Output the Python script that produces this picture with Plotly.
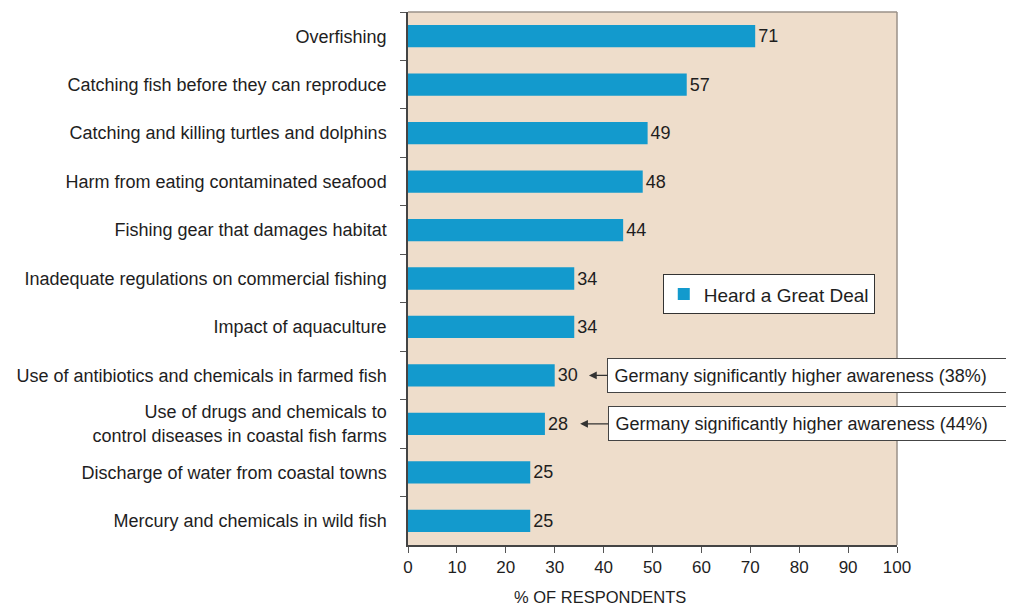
import plotly.graph_objects as go

# ── Data ──────────────────────────────────────────────────────────────────────

CATEGORIES = [
    "Overfishing",
    "Catching fish before they can reproduce",
    "Catching and killing turtles and dolphins",
    "Harm from eating contaminated seafood",
    "Fishing gear that damages habitat",
    "Inadequate regulations on commercial fishing",
    "Impact of aquaculture",
    "Use of antibiotics and chemicals in farmed fish",
    "Use of drugs and chemicals to<br>control diseases in coastal fish farms",
    "Discharge of water from coastal towns",
    "Mercury and chemicals in wild fish",
]
HEARD_GREAT_DEAL = [71, 57, 49, 48, 44, 34, 34, 30, 28, 25, 25]
X_TICKS = [0, 10, 20, 30, 40, 50, 60, 70, 80, 90, 100]

CALLOUTS = [
    # (category index, note text)
    (7, "Germany significantly higher awareness (38%)"),
    (8, "Germany significantly higher awareness (44%)"),
]

# ── Style ─────────────────────────────────────────────────────────────────────
# The page body keeps its default 8px margin, so the figure is laid out
# 8px up/left of where it appears in the screenshot.

FONT = "Liberation Sans, Arial, Helvetica, sans-serif"
INK = "#1E1E1E"
BAR = "#139ACD"
PANEL = "#EEDDCB"
FRAME = "#9A9088"

fig = go.Figure(
    go.Bar(
        x=HEARD_GREAT_DEAL,
        y=CATEGORIES,
        orientation="h",
        name="Heard a Great Deal",
        width=0.46,
        marker=dict(color=BAR, line=dict(width=0)),
        text=[str(v) for v in HEARD_GREAT_DEAL],
        textposition="outside",
        textfont=dict(size=18, color=INK, family=FONT),
        cliponaxis=False,
    )
)

annotations = [
    dict(
        text="% OF RESPONDENTS",
        xref="paper", yref="paper",
        x=0.393, y=-0.097,
        xanchor="center", yanchor="middle",
        showarrow=False,
        font=dict(size=16.5, color=INK, family=FONT),
    )
]
# arrow head sits a little right of the value label; box tail offset in px
arrow_gap = {7: 7.0, 8: 7.2}
box_shift = {7: 236, 8: 245}
for idx, note in CALLOUTS:
    annotations.append(dict(
        text=note,
        xref="x", yref="y",
        x=HEARD_GREAT_DEAL[idx] + arrow_gap[idx], y=CATEGORIES[idx],
        ax=box_shift[idx], ay=0,
        showarrow=True,
        arrowhead=2, arrowsize=1.3, arrowwidth=1.2, arrowcolor="#333333",
        width=420, align="left",
        bgcolor="white", bordercolor="#444444", borderwidth=1, borderpad=6.5,
        font=dict(size=18, color=INK, family=FONT),
    ))

fig.update_layout(
    width=1006,
    height=604,
    margin=dict(l=400, r=117, t=4, b=67),
    paper_bgcolor="white",
    plot_bgcolor=PANEL,
    font=dict(family=FONT, color=INK),
    showlegend=True,
    legend=dict(
        x=0.521, y=0.508, xanchor="left", yanchor="top",
        bgcolor="white", bordercolor="#333333", borderwidth=1,
        font=dict(size=19, color=INK, family=FONT),
        itemwidth=30,
    ),
    xaxis=dict(
        range=[0, 100],
        tickvals=X_TICKS,
        ticks="outside", ticklen=6, tickcolor="#555555",
        tickfont=dict(size=17, color=INK),
        showgrid=False, zeroline=False,
        showline=True, linecolor="#444444", linewidth=1.5,
    ),
    yaxis=dict(
        autorange="reversed",
        ticks="outside", ticklen=6, tickcolor="#555555",
        tickson="boundaries",
        ticklabelstandoff=16,
        tickfont=dict(size=18, color=INK),
        showgrid=False, zeroline=False,
        showline=True, linecolor="#444444", linewidth=1.5,
    ),
    shapes=[
        dict(type="line", xref="paper", yref="paper", x0=0, x1=1, y0=1, y1=1,
             line=dict(color=FRAME, width=1.5)),
        dict(type="line", xref="paper", yref="paper", x0=1, x1=1, y0=0, y1=1,
             line=dict(color=FRAME, width=1.5)),
    ],
    annotations=annotations,
)

fig.write_html("out.html")
